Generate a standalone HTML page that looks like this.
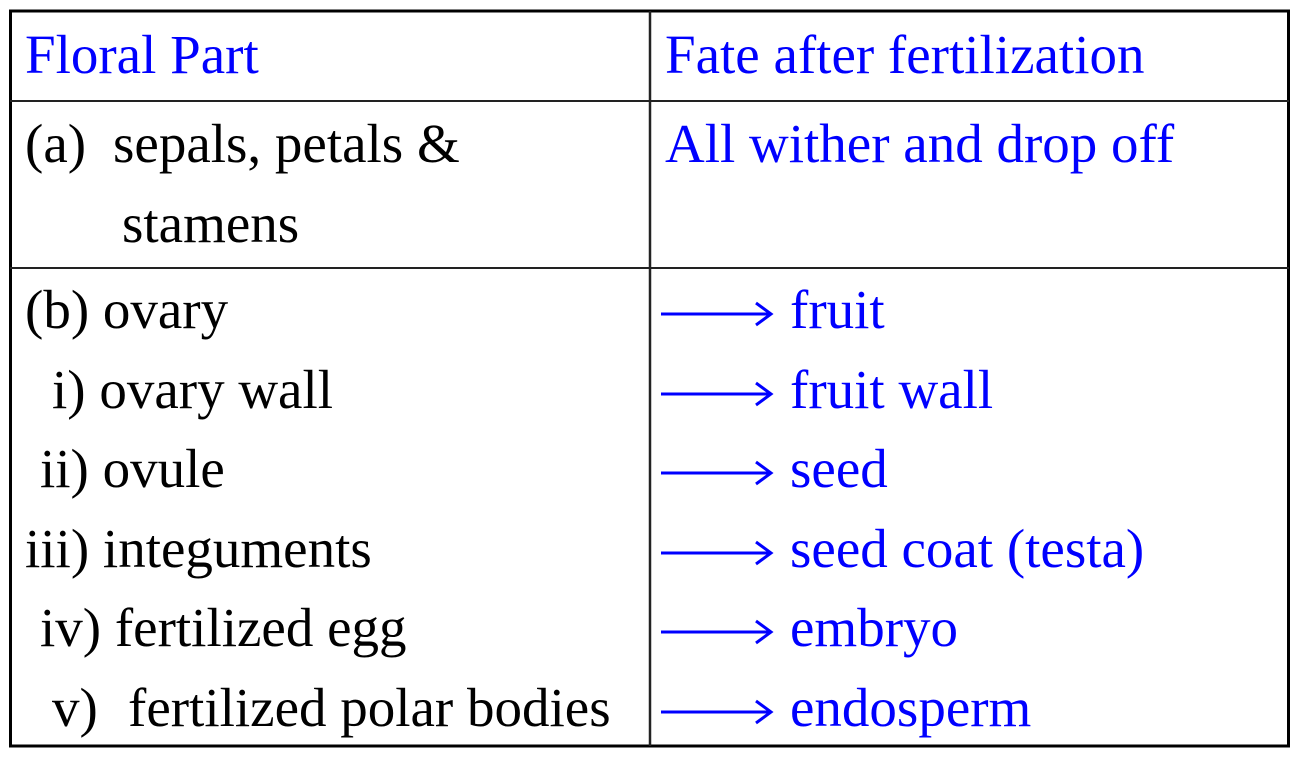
<!DOCTYPE html>
<html><head><meta charset="utf-8"><style>
html,body{margin:0;padding:0;background:#fff;}
svg{display:block;}
text{font-family:"Liberation Serif",serif;font-size:55px;}
.b{fill:#0000ff;}
.k{fill:#000;}
</style></head><body>
<svg width="1299" height="757" viewBox="0 0 1299 757" xmlns="http://www.w3.org/2000/svg">
<rect x="10.5" y="11" width="1278" height="735" fill="none" stroke="#000" stroke-width="3"/>
<line x1="650" y1="11" x2="650" y2="746" stroke="#222" stroke-width="2.5"/>
<line x1="10" y1="101" x2="1289" y2="101" stroke="#222" stroke-width="2"/>
<line x1="10" y1="268" x2="1289" y2="268" stroke="#222" stroke-width="2"/>
<text class="b" x="25" y="73">Floral Part</text>
<text class="b" x="665" y="73">Fate after fertilization</text>
<text class="k" x="25" y="162">(a)</text>
<text class="k" x="113" y="162">sepals, petals &amp;</text>
<text class="k" x="122" y="242">stamens</text>
<text class="b" x="665" y="162">All wither and drop off</text>
<text class="k" x="25" y="328">(b) ovary</text>
<text class="k" x="52" y="408">i) ovary wall</text>
<text class="k" x="40" y="487">ii) ovule</text>
<text class="k" x="25" y="567">iii) integuments</text>
<text class="k" x="40" y="646">iv) fertilized egg</text>
<text class="k" x="52" y="726">v)</text>
<text class="k" x="128" y="726">fertilized polar bodies</text>
<g stroke="#0000ff" stroke-width="3" fill="none">
<path d="M661 314 H770 M756 303 L771 314 L756 325"/>
<path d="M661 394 H770 M756 383 L771 394 L756 405"/>
<path d="M661 473 H770 M756 462 L771 473 L756 484"/>
<path d="M661 553 H770 M756 542 L771 553 L756 564"/>
<path d="M661 632 H770 M756 621 L771 632 L756 643"/>
<path d="M661 712 H770 M756 701 L771 712 L756 723"/>
</g>
<text class="b" x="790" y="328">fruit</text>
<text class="b" x="790" y="408">fruit wall</text>
<text class="b" x="790" y="487">seed</text>
<text class="b" x="790" y="567">seed coat (testa)</text>
<text class="b" x="790" y="646">embryo</text>
<text class="b" x="790" y="726">endosperm</text>
</svg>
</body></html>
